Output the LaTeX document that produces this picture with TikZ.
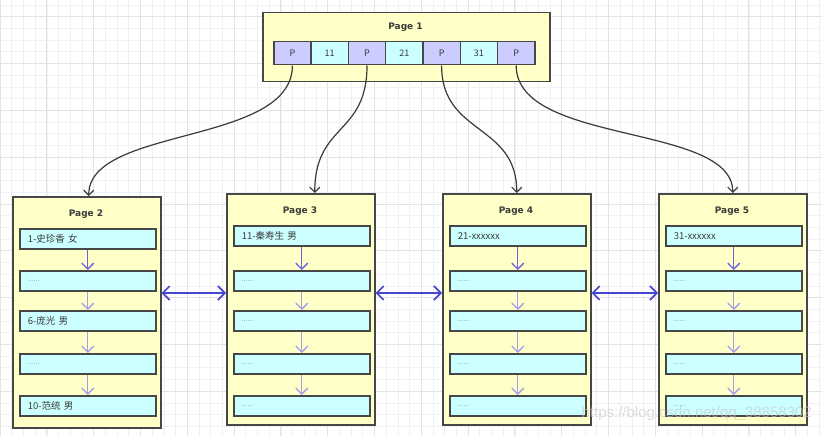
\documentclass[tikz,border=0pt]{standalone}
\usepackage{fontspec}
\setmainfont{DejaVu Sans}
\newfontfamily\cjk{Noto Sans CJK SC}
\newfontfamily\wmfont{Liberation Sans}
\usetikzlibrary{arrows.meta}
\usetikzlibrary{positioning}

\definecolor{pageyellow}{HTML}{FFFFC8}
\definecolor{reccyan}{HTML}{CCFFFF}
\definecolor{ptrblue}{HTML}{CCCCFF}
\definecolor{edgegray}{HTML}{474747}
\definecolor{textgray}{HTML}{3A3A3A}
\definecolor{linkblue}{HTML}{4646D2}
\definecolor{nextblue}{HTML}{6E62E2}
\definecolor{nextlight}{HTML}{A69CEC}
\definecolor{gridminor}{HTML}{F1F1F1}
\definecolor{gridmajor}{HTML}{E3E3E3}

\newcommand{\dotsrec}{{\fontsize{7}{7}\selectfont\color{gray}......}}

\begin{document}
\begin{tikzpicture}[x=1pt, y=-1pt]
    \tikzset{
        page/.style={draw=edgegray, line width=1.5pt, fill=pageyellow, inner sep=0pt, anchor=north west},
        pagetitle/.style={font=\bfseries\fontsize{9}{9}\selectfont, text=textgray, inner sep=0pt},
        cellbox/.style={draw=edgegray, line width=1.5pt, minimum width=37.3pt, minimum height=23pt,
            inner sep=0pt, anchor=north west, font=\cjk\fontsize{9}{9}\selectfont, text=textgray},
        ptrcell/.style={cellbox, fill=ptrblue},
        keycell/.style={cellbox, fill=reccyan},
        record/.style={draw=edgegray, line width=1.6pt, fill=reccyan, minimum width=136pt, minimum height=20pt,
            inner xsep=8pt, inner ysep=0pt, text width=120pt, align=left, anchor=north west,
            font=\cjk\fontsize{9.5}{10}\selectfont, text=textgray},
        tree/.style={draw=textgray, line width=1.2pt, -{Straight Barb[length=5pt,width=10pt]}},
        nextrec/.style={line width=1.3pt, -{Straight Barb[length=6pt,width=12pt]}},
        sibling/.style={draw=linkblue, line width=1.7pt, {Straight Barb[length=7pt,width=14pt]}-{Straight Barb[length=7pt,width=14pt]}}
    }

    % background grid
    \useasboundingbox (0,0) rectangle (822,436);
    \fill[white] (0,0) rectangle (822,436);
    \foreach \gx in {0,11.7,...,822} \draw[gridminor, line width=0.6pt] (\gx,0) -- (\gx,436);
    \foreach \gy in {5,16.7,...,436} \draw[gridminor, line width=0.6pt] (0,\gy) -- (822,\gy);
    \foreach \gx in {0,46.8,...,822} \draw[gridmajor, line width=0.8pt] (\gx,0) -- (\gx,436);
    \foreach \gy in {16.7,63.5,...,436} \draw[gridmajor, line width=0.8pt] (0,\gy) -- (822,\gy);

    % root page
    \node[page, minimum width=287pt, minimum height=69pt] (page1) at (262,12) {};
    \node[pagetitle] (title1) at (405.5,27) {Page 1};
    \foreach \i/\t/\s in {1/P/ptrcell, 2/11/keycell, 3/P/ptrcell, 4/21/keycell, 5/P/ptrcell, 6/31/keycell, 7/P/ptrcell}
        \node[\s] (cell\i) at (273+37.3*\i-37.3,41) {\t};

    % leaf pages
    \foreach \p/\px/\py/\ry/\first/\third/\fifth in {
        2/12/196/228/1-史珍香 女/6-庞光 男/10-范统 男,
        3/226/193/225/11-秦寿生 男/\dotsrec/\dotsrec,
        4/442/193/225/21-xxxxxx/\dotsrec/\dotsrec,
        5/658/193/225/31-xxxxxx/\dotsrec/\dotsrec}{
        \node[page, minimum width=148pt, minimum height=231pt] (page\p) at (\px,\py) {};
        \node[pagetitle] (title\p) at (\px+74,\py+18) {Page \p};
        \node[record] (rec\p1) at (\px+7,\ry) {\first};
        \node[record] (rec\p2) at (\px+7,270) {\dotsrec};
        \node[record] (rec\p3) at (\px+7,310) {\third};
        \node[record] (rec\p4) at (\px+7,353) {\dotsrec};
        \node[record] (rec\p5) at (\px+7,395) {\fifth};
        \draw[nextrec, nextblue] (rec\p1.south) -- (rec\p2.north);
        \draw[nextrec, nextlight] (rec\p2.south) -- (rec\p3.north);
        \draw[nextrec, nextlight] (rec\p3.south) -- (rec\p4.north);
        \draw[nextrec, nextlight] (rec\p4.south) -- (rec\p5.north);
    }

    % pointers from the root
    \draw[tree] (cell1.south) .. controls +(0,80) and +(0,-70) .. ([xshift=2pt]page2.north);
    \draw[tree] (cell3.south) .. controls +(0,70) and +(0,-70) .. ([xshift=14pt]page3.north);
    \draw[tree] (cell5.south) .. controls +(0,70) and +(0,-70) .. (page4.north);
    \draw[tree] (cell7.south) .. controls +(0,80) and +(0,-70) .. (page5.north);

    % links between neighbour pages
    \coordinate (linky) at (0,293);
    \draw[sibling] (page2.east |- linky) -- (page3.west |- linky);
    \draw[sibling] (page3.east |- linky) -- (page4.west |- linky);
    \draw[sibling] (page4.east |- linky) -- (page5.west |- linky);

    \node[anchor=south east, inner sep=0pt, font=\wmfont\fontsize{15}{15}\selectfont, text=gray!45, opacity=.6] (mark) at (812,421) {https://blog.csdn.net/qq\_38858302};

\end{tikzpicture}
\end{document}
